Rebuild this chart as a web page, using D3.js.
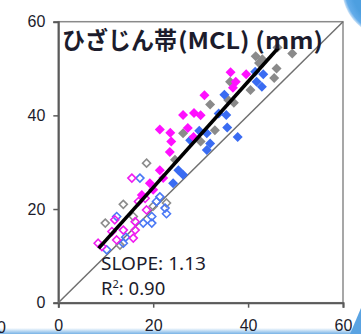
<!DOCTYPE html>
<html>
<head>
<meta charset="utf-8">
<script src="https://cdn.jsdelivr.net/npm/d3@7"></script>
<style>
  html, body { margin: 0; padding: 0; background: #fff; overflow: hidden; }
  svg { display: block; }
</style>
</head>
<body>
<svg id="chart" width="361" height="334"></svg>
<script>
// ---- data -------------------------------------------------------------
const tickValues = [0, 20, 40, 60];
const titleJa = "ひざじん帯";
const titleEn = "(MCL) (mm)";

// Regression fit
const slope = 1.13;
const r2 = 0.90;
const intercept = 2.0;
const fitRange = [8.5, 46.4];

// filled markers (upper group) [x, y]
const magentaFilled = [
  [36.3, 49.2], [39.6, 48.8], [37.4, 47.2], [36.8, 45.9], [30.8, 44.3],
  [26.3, 40.1], [28.6, 40.5], [30.0, 40.0], [21.4, 37.0], [23.6, 36.3],
  [27.3, 37.3], [28.5, 35.4], [23.8, 34.4], [23.5, 32.2], [21.4, 28.3],
  [22.1, 26.6], [19.3, 25.5], [20.0, 24.1], [17.6, 23.0]
];
const grayFilled = [
  [41.6, 52.6], [43.0, 52.0], [42.3, 51.2], [49.3, 53.2], [46.2, 54.5],
  [46.0, 50.0], [45.5, 48.0], [40.5, 45.4], [36.2, 47.2], [35.8, 43.3],
  [37.0, 42.7], [32.0, 42.3], [33.0, 36.8], [26.3, 36.2], [30.0, 34.4],
  [24.6, 30.5]
];
const blueFilled = [
  [41.5, 49.3], [43.2, 48.8], [41.8, 47.2], [42.9, 46.1], [35.0, 44.4],
  [33.8, 40.4], [35.4, 40.1], [35.6, 37.4], [37.8, 35.4], [29.7, 36.7],
  [31.3, 36.2], [32.0, 34.0], [31.3, 32.6], [27.8, 34.7], [25.3, 28.3],
  [26.3, 27.3], [24.2, 25.5]
];

// hollow markers (lower group) [x, y]
const magentaHollow = [
  [15.5, 26.6], [18.3, 22.3], [16.9, 21.6], [18.6, 19.8], [16.2, 17.3],
  [11.9, 17.7], [13.7, 15.5], [15.8, 13.8], [12.3, 13.4], [8.4, 12.7],
  [11.3, 15.2], [16.2, 15.5], [9.2, 12.0]
];
const blueHollow = [
  [17.2, 26.6], [20.7, 21.6], [21.4, 22.6], [22.5, 20.2], [22.8, 19.0],
  [19.7, 18.4], [17.9, 17.0], [19.7, 17.0], [12.3, 18.4], [13.7, 12.7],
  [10.2, 11.3], [14.2, 14.0]
];
const grayHollow = [
  [18.6, 29.8], [13.7, 21.0], [9.9, 17.0], [22.8, 21.3], [15.8, 18.4],
  [13.0, 12.3], [20.0, 20.6]
];

// ---- drawing ----------------------------------------------------------
const svg = d3.select("#chart");
const defs = svg.append("defs");

const x = d3.scaleLinear().domain([0, 60]).range([58.3, 343]);
const y = d3.scaleLinear().domain([0, 60]).range([302.7, 21.7]);

// page decoration: rounded blue panel corner, bottom band
const rg = defs.append("radialGradient").attr("id", "cornerGrad")
  .attr("cx", "50%").attr("cy", "50%").attr("r", "50%");
rg.append("stop").attr("offset", "80%").attr("stop-color", "#4d9fe0");
rg.append("stop").attr("offset", "94%").attr("stop-color", "#63acea");
rg.append("stop").attr("offset", "100%").attr("stop-color", "#cfe4f7");
svg.append("circle").attr("cx", 392).attr("cy", -12).attr("r", 50)
  .attr("fill", "url(#cornerGrad)");

const lg = defs.append("linearGradient").attr("id", "bandGrad")
  .attr("x1", 0).attr("y1", 0).attr("x2", 0).attr("y2", 1);
lg.append("stop").attr("offset", "0%").attr("stop-color", "#ffffff");
lg.append("stop").attr("offset", "100%").attr("stop-color", "#78b3e6");
svg.append("rect").attr("x", 0).attr("y", 328).attr("width", 361).attr("height", 6)
  .attr("fill", "url(#bandGrad)");
svg.append("path").attr("d", "M361,308 L361,334 L350,334 Z").attr("fill", "#5aa3e2");

// plot frame
svg.append("rect")
  .attr("x", x(0)).attr("y", y(60))
  .attr("width", x(60) - x(0)).attr("height", y(0) - y(60))
  .attr("fill", "none").attr("stroke", "#8a8a8a").attr("stroke-width", 1.5);

// axes
const textColor = "#1c1c2c";
const fontTicks = "'Liberation Sans', Arial, sans-serif";

const yAxis = d3.axisLeft(y).tickValues(tickValues).tickSize(5).tickPadding(8);
const gy = svg.append("g").attr("transform", `translate(${x(0)},0)`).call(yAxis);
const xAxis = d3.axisBottom(x).tickValues(tickValues).tickSize(5).tickPadding(12);
const gx = svg.append("g").attr("transform", `translate(0,${y(0)})`).call(xAxis);
[gx, gy].forEach(g => {
  g.select(".domain").attr("stroke", "#5a5a5a").attr("stroke-width", 2);
  g.selectAll(".tick line").attr("stroke", "#5a5a5a").attr("stroke-width", 1.5);
  g.selectAll(".tick text").attr("fill", textColor)
    .style("font-family", fontTicks).style("font-size", "16px");
});

// neighbouring axis label cut by the left edge
svg.append("text").attr("x", 6).attr("y", 333).attr("text-anchor", "end")
  .attr("fill", textColor).style("font-family", fontTicks).style("font-size", "16px")
  .text("60");

// identity line y = x
svg.append("line")
  .attr("x1", x(0)).attr("y1", y(0)).attr("x2", x(60)).attr("y2", y(60))
  .attr("stroke", "#707070").attr("stroke-width", 1.5);

// markers
const diamond = (s) => {
  const h = s / 2;
  return `M0,${-h}L${h},0L0,${h}L${-h},0Z`;
};
function drawFilled(data, color) {
  svg.append("g").selectAll("path").data(data).join("path")
    .attr("transform", d => `translate(${x(d[0])},${y(d[1])})`)
    .attr("d", diamond(10))
    .attr("fill", color);
}
function drawHollow(data, color) {
  svg.append("g").selectAll("path").data(data).join("path")
    .attr("transform", d => `translate(${x(d[0])},${y(d[1])})`)
    .attr("d", diamond(8))
    .attr("fill", "none").attr("stroke", color).attr("stroke-width", 1.6);
}
drawHollow(grayHollow, "#8c8c8c");
drawHollow(blueHollow, "#4a78f5");
drawHollow(magentaHollow, "#f01cf0");
drawFilled(grayFilled, "#8a8a8a");
drawFilled(blueFilled, "#3a6cf2");
drawFilled(magentaFilled, "#ff10ff");

// regression line
svg.append("line")
  .attr("x1", x(fitRange[0])).attr("y1", y(slope * fitRange[0] + intercept))
  .attr("x2", x(fitRange[1])).attr("y2", y(slope * fitRange[1] + intercept))
  .attr("stroke", "#000").attr("stroke-width", 3.6);

// title
const titleFont = "'Noto Sans CJK JP', sans-serif";
svg.append("text").attr("x", 62).attr("y", 49).attr("fill", textColor)
  .style("font-family", titleFont).style("font-size", "24px").style("font-weight", "bold")
  .attr("textLength", 115).attr("lengthAdjust", "spacingAndGlyphs")
  .text(titleJa);
svg.append("text").attr("x", 178).attr("y", 49).attr("fill", textColor)
  .style("font-family", titleFont).style("font-size", "23px").style("font-weight", "bold")
  .attr("textLength", 145).attr("lengthAdjust", "spacingAndGlyphs")
  .text(titleEn);

// fit statistics
const statFont = "'Noto Sans', sans-serif";
svg.append("text").attr("x", 101).attr("y", 270).attr("fill", textColor)
  .style("font-family", statFont).style("font-size", "18.5px")
  .attr("textLength", 105).attr("lengthAdjust", "spacingAndGlyphs")
  .text(`SLOPE: ${slope.toFixed(2)}`);
const r2t = svg.append("text").attr("x", 101).attr("y", 295).attr("fill", textColor)
  .style("font-family", statFont).style("font-size", "18.5px");
r2t.append("tspan").text("R");
r2t.append("tspan").attr("dy", -7).style("font-size", "11px").text("2");
r2t.append("tspan").attr("dy", 7).text(`: ${r2.toFixed(2)}`);
</script>
</body>
</html>
